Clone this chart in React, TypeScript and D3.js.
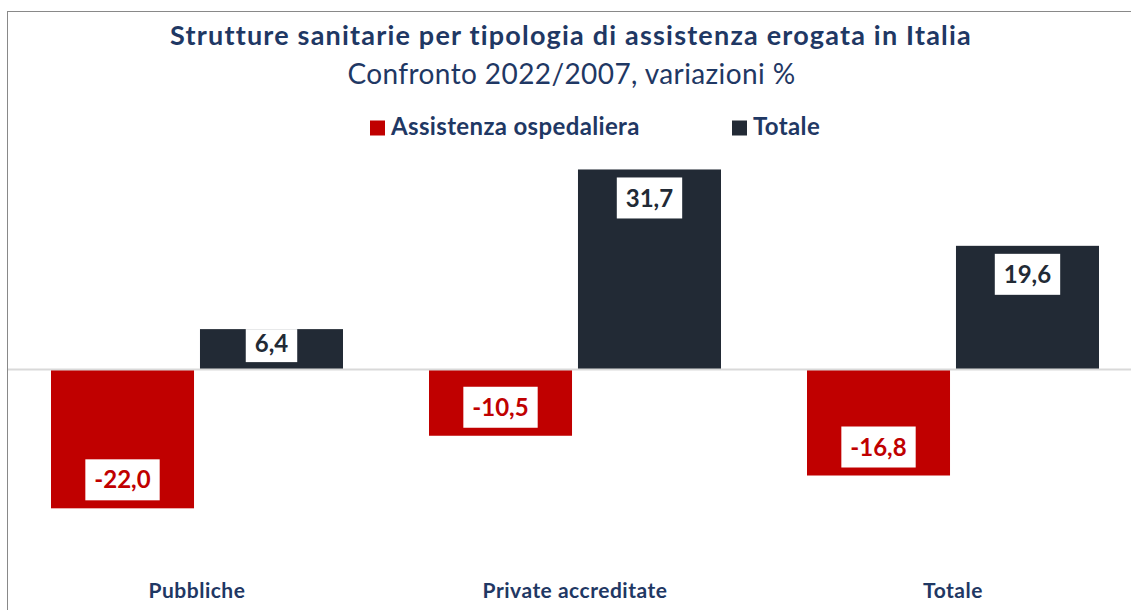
import React, { useEffect, useRef } from "react";
import * as d3 from "d3";

const categories = ["Pubbliche", "Private accreditate", "Totale"];
const seriesNames = ["Assistenza ospedaliera", "Totale"];
const ospedaliera = [-22.0, -10.5, -16.8];
const totale = [6.4, 31.7, 19.6];
const seriesColors = ["#c00000", "#222a35"];
const titleText = "Strutture sanitarie per tipologia di assistenza erogata in Italia";
const subtitleText = "Confronto 2022/2007, variazioni %";

const W = 1131;
const H = 610;
const FONT = "Lato, 'Noto Sans', sans-serif";
const NAVY = "#1f3864";

export default function App() {
  const ref = useRef<SVGSVGElement | null>(null);

  useEffect(() => {
    const svg = d3.select(ref.current);
    svg.selectAll("*").remove();

    const values = [ospedaliera, totale];

    // frame
    svg.append("rect").attr("x", 0).attr("y", 0).attr("width", W).attr("height", H).attr("fill", "#fff");
    svg.append("rect")
      .attr("x", 7.5).attr("y", 11.5).attr("width", 1300).attr("height", 800)
      .attr("fill", "#fff").attr("stroke", "#898989").attr("stroke-width", 1);

    // title
    svg.append("text").attr("x", 571).attr("y", 44.5).attr("text-anchor", "middle")
      .attr("font-family", FONT).attr("font-weight", 700).attr("font-size", 27)
      .attr("letter-spacing", 1.2)
      .attr("fill", NAVY).text(titleText);
    svg.append("text").attr("x", 571.5).attr("y", 83.5).attr("text-anchor", "middle")
      .attr("font-family", FONT).attr("font-weight", 400).attr("font-size", 28)
      .attr("letter-spacing", 0.4)
      .attr("fill", NAVY).text(subtitleText);

    // legend
    const legendX = [370, 732];
    seriesNames.forEach((name, i) => {
      const g = svg.append("g").attr("transform", `translate(${legendX[i]},0)`);
      g.append("rect").attr("x", 0).attr("y", 120.5).attr("width", 15).attr("height", 15).attr("fill", seriesColors[i]);
      g.append("text").attr("x", 21).attr("y", 135).attr("font-family", FONT).attr("font-weight", 700)
        .attr("font-size", 24).attr("letter-spacing", 0.35).attr("fill", NAVY).text(name);
    });

    // scales
    const x0 = d3.scaleBand<string>().domain(categories).range([8, 1142]).padding(0);
    const x1 = d3.scaleBand<string>().domain(seriesNames).range([43, 335]).paddingInner(0.04).paddingOuter(0);
    const y = d3.scaleLinear().domain([-25, 35]).range([527.25, 148.65]);

    const bars = svg.append("g");
    const labels = svg.append("g");

    categories.forEach((cat, ci) => {
      seriesNames.forEach((s, si) => {
        const v = values[si][ci];
        const bx = (x0(cat) as number) + (x1(s) as number);
        const bw = x1.bandwidth();
        const top = Math.min(y(v), y(0));
        const bot = Math.max(y(v), y(0));
        bars.append("rect").attr("x", bx).attr("y", top).attr("width", bw).attr("height", bot - top)
          .attr("fill", seriesColors[si]);

        const fs = 24;
        const t = labels.append("text")
          .attr("text-anchor", "middle").attr("font-family", FONT).attr("font-weight", 700)
          .attr("font-size", fs).attr("fill", seriesColors[si])
          .text(d3.format(".1f")(v).replace(".", ",").replace("−", "-"));
        const tw = (t.node() as SVGTextElement).getComputedTextLength();
        const boxH = 41;
        const margin = 8;
        let cy: number;
        let boxTop: number;
        let boxBot: number;
        if (bot - top >= boxH + 2 * margin) {
          cy = v >= 0 ? top + margin + boxH / 2 : bot - margin - boxH / 2;
          boxTop = cy - boxH / 2;
          boxBot = cy + boxH / 2;
        } else {
          cy = top + 14;
          boxTop = Math.max(top, cy - boxH / 2);
          boxBot = cy + 19;
        }
        const cx = bx + bw / 2;
        t.attr("x", cx).attr("y", cy + 0.36 * fs);
        labels.insert("rect", () => t.node() as any)
          .attr("x", cx - tw / 2 - 9).attr("y", boxTop).attr("width", tw + 18).attr("height", boxBot - boxTop)
          .attr("fill", "#fff");
      });
    });

    // zero line
    svg.append("line").attr("x1", 8).attr("x2", W).attr("y1", y(0)).attr("y2", y(0))
      .attr("stroke", "#d9d9d9").attr("stroke-width", 2);
    svg.node()!.appendChild(labels.node() as any);

    // category labels
    categories.forEach((cat) => {
      svg.append("text").attr("x", (x0(cat) as number) + x0.bandwidth() / 2).attr("y", 597.5)
        .attr("text-anchor", "middle").attr("font-family", FONT).attr("font-weight", 700)
        .attr("font-size", 21).attr("letter-spacing", 0.5).attr("fill", NAVY).text(cat);
    });
  }, []);

  return (
    <svg ref={ref} width={W} height={H} style={{ position: "absolute", left: 0, top: 0, display: "block" }} />
  );
}
